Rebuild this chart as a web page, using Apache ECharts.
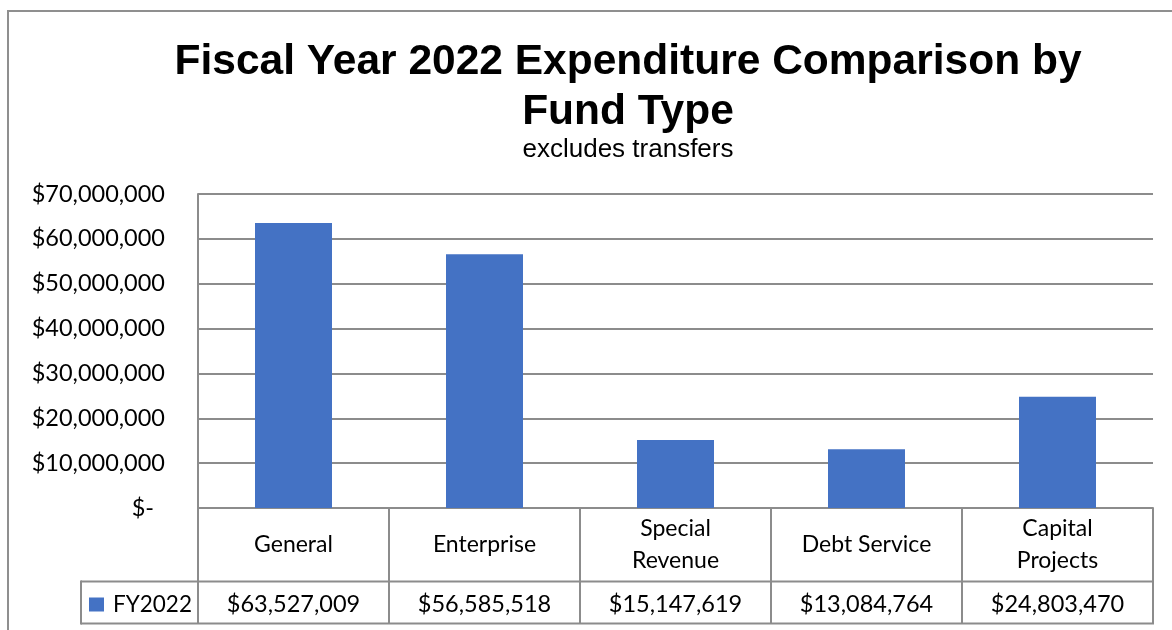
<!DOCTYPE html>
<html>
<head>
<meta charset="utf-8">
<script src="https://cdn.jsdelivr.net/npm/echarts@6/dist/echarts.min.js"></script>
<style>
  html, body { margin: 0; padding: 0; background: #ffffff; }
  #chart { width: 1172px; height: 630px; }
</style>
</head>
<body>
<div id="chart"></div>
<script>
// Fund types and FY2022 expenditures (excluding transfers)
const categories = ['General', 'Enterprise', 'Special\nRevenue', 'Debt Service', 'Capital\nProjects'];
const fy2022 = [63527009, 56585518, 15147619, 13084764, 24803470];
const seriesName = 'FY2022';
const yTicks = { min: 0, max: 70000000, interval: 10000000 };

const LINE = '#8c8c8c';
const BODY_FONT = 'Lato';
const fmtMoney = v => '$' + v.toLocaleString('en-US');

// Grid edges in pixels
const G = { left: 198, right: 1153, top: 194, bottom: 508 };
const TABLE = { left: 81, valueTop: 581.5, bottom: 623.5 };

const chart = echarts.init(document.getElementById('chart'));
chart.setOption({
  backgroundColor: '#ffffff',
  animation: false,
  title: {
    text: 'Fiscal Year 2022 Expenditure Comparison by\nFund Type',
    subtext: 'excludes transfers',
    left: 628,
    textAlign: 'center',
    top: 37,
    padding: 0,
    itemGap: 0,
    textStyle: {
      fontFamily: 'Liberation Sans', fontWeight: 'bold', fontSize: 42.5,
      lineHeight: 50, color: '#000000'
    },
    subtextStyle: {
      fontFamily: 'Liberation Sans', fontSize: 26, lineHeight: 26, color: '#000000'
    }
  },
  legend: {
    data: [seriesName],
    left: 89,
    top: 593,
    padding: 0,
    itemWidth: 15,
    itemHeight: 14,
    itemGap: 8,
    icon: 'rect',
    textStyle: { fontFamily: BODY_FONT, fontSize: 22.5, color: '#000000', padding: [0, 0, 0, 4] }
  },
  grid: {
    left: G.left, right: 1172 - G.right, top: G.top, bottom: 630 - G.bottom,
    containLabel: false
  },
  xAxis: [
    {
      type: 'category',
      data: categories,
      position: 'bottom',
      axisLine: { show: true, lineStyle: { color: LINE, width: 2 } },
      axisTick: { show: true, length: 116, lineStyle: { color: LINE, width: 2 } },
      axisLabel: {
        margin: 37, verticalAlign: 'middle', lineHeight: 32,
        fontFamily: BODY_FONT, fontSize: 23, color: '#000000', interval: 0
      }
    },
    {
      // value row of the data table
      type: 'category',
      data: categories,
      position: 'bottom',
      axisLine: { show: false },
      axisTick: { show: false },
      axisLabel: {
        margin: 96, verticalAlign: 'middle',
        fontFamily: BODY_FONT, fontSize: 23.5, color: '#000000', interval: 0,
        formatter: (v, i) => fmtMoney(fy2022[i])
      }
    }
  ],
  yAxis: {
    type: 'value',
    min: yTicks.min, max: yTicks.max, interval: yTicks.interval,
    axisLine: { show: true, lineStyle: { color: LINE, width: 2 } },
    axisTick: { show: false },
    splitLine: { show: true, lineStyle: { color: LINE, width: 2 } },
    axisLabel: {
      margin: 33,
      fontFamily: BODY_FONT, fontSize: 23.5, color: '#000000',
      formatter: v => v === 0 ? '{z|$-}' : fmtMoney(v),
      rich: { z: { fontFamily: BODY_FONT, fontSize: 23.5, color: '#000000', padding: [0, 11, 0, 0] } }
    }
  },
  series: [{
    name: seriesName,
    type: 'bar',
    xAxisIndex: 0,
    data: fy2022,
    barWidth: 77,
    itemStyle: { color: '#4472c4' }
  }],
  graphic: [
    // outer chart border
    { type: 'rect', silent: true, z: 0,
      shape: { x: 8, y: 11, width: 1300, height: 800 },
      style: { fill: 'none', stroke: '#8f8f8f', lineWidth: 2 } },
    // data table rules
    { type: 'line', silent: true, z: 10,
      shape: { x1: TABLE.left, y1: TABLE.valueTop, x2: G.right + 1, y2: TABLE.valueTop },
      style: { stroke: LINE, lineWidth: 2 } },
    { type: 'line', silent: true, z: 10,
      shape: { x1: TABLE.left, y1: TABLE.bottom, x2: G.right + 1, y2: TABLE.bottom },
      style: { stroke: LINE, lineWidth: 2 } },
    { type: 'line', silent: true, z: 10,
      shape: { x1: TABLE.left, y1: TABLE.valueTop - 1, x2: TABLE.left, y2: TABLE.bottom + 1 },
      style: { stroke: LINE, lineWidth: 2 } }
  ]
});
</script>
</body>
</html>
